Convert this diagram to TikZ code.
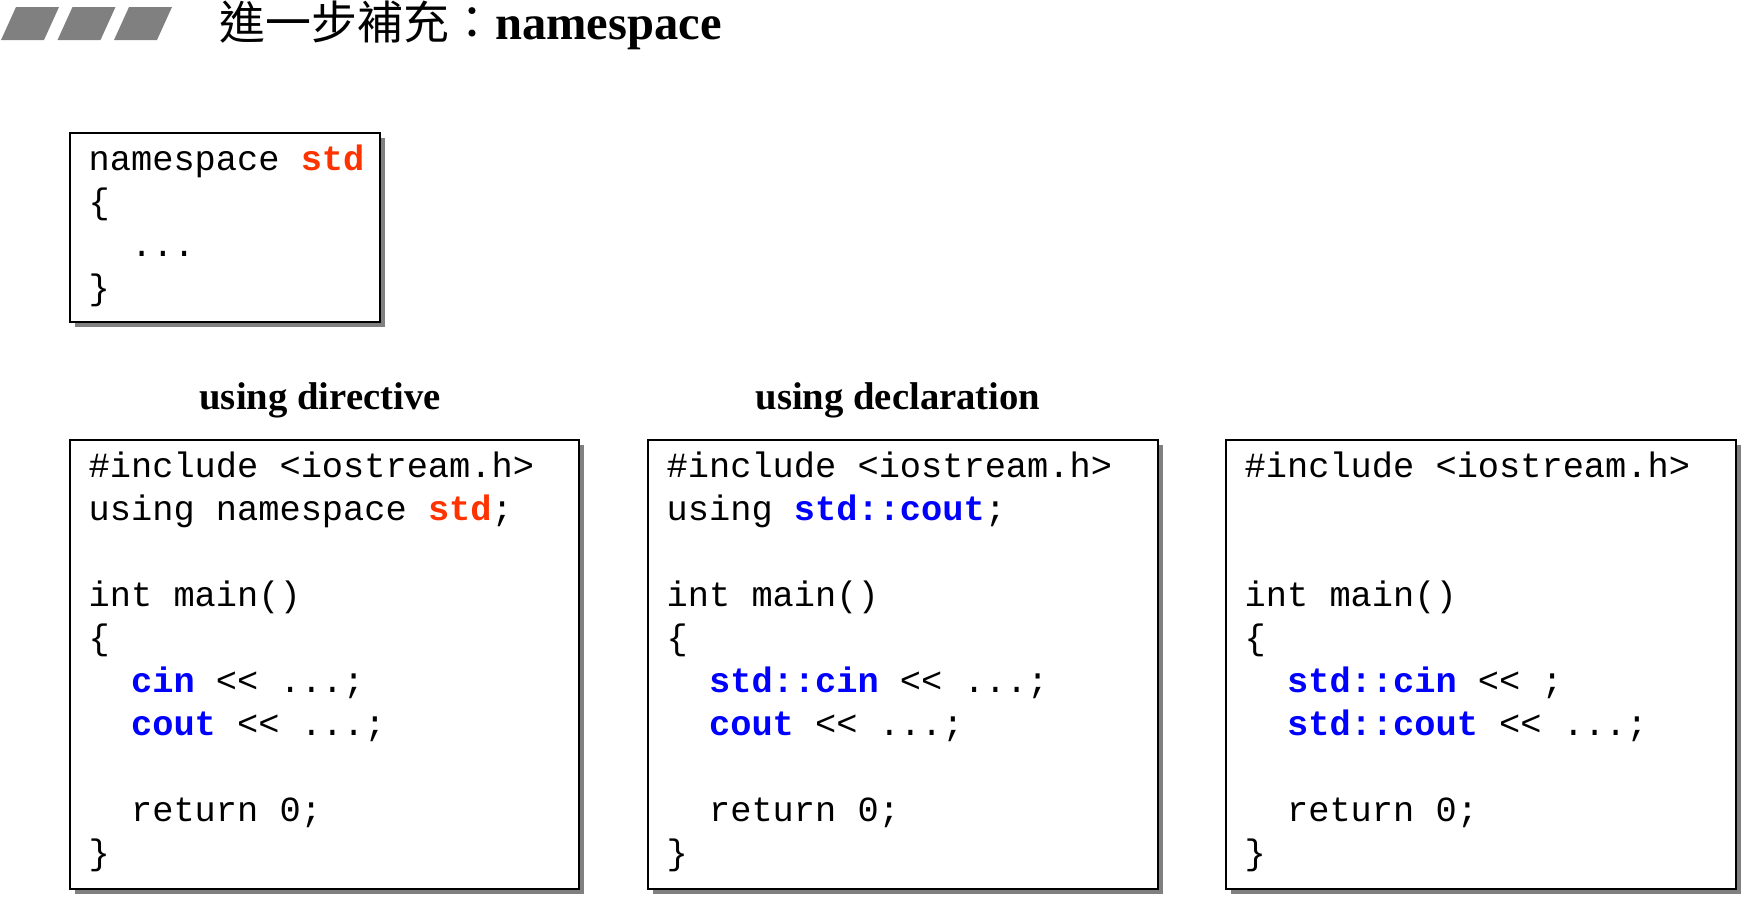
\documentclass[tikz,border=0pt]{standalone}
\usepackage{fontspec}
\setmainfont{Liberation Serif}
\setmonofont{Liberation Mono}
\newfontfamily\cjkfont[Scale=0.946]{Noto Sans CJK TC}
\usetikzlibrary{shadows}

\definecolor{stdred}{RGB}{255,51,0}
\definecolor{kwblue}{RGB}{0,0,255}
\definecolor{stripegray}{RGB}{128,128,128}
\newcommand{\redkw}[1]{\textcolor{stdred}{\textbf{#1}}}
\newcommand{\bluekw}[1]{\textcolor{kwblue}{\textbf{#1}}}
\newcommand{\codedots}{.{}.{}.}
\newcommand{\shl}{<{}<}

\tikzset{
  codebox/.style={draw, line width=0.6pt, fill=white, anchor=north west, inner sep=0pt, outer sep=0pt,
    drop shadow={shadow xshift=0.05cm, shadow yshift=-0.05cm, fill=stripegray, opacity=1}},
  codeline/.style={anchor=base west, inner sep=0pt, font=\ttfamily\fontsize{10.05pt}{12pt}\selectfont},
  subtitle/.style={anchor=base, inner sep=0pt, font=\bfseries\fontsize{11pt}{13pt}\selectfont}
}

\begin{document}
\begin{tikzpicture}[x=0.01cm, y=-0.01cm]
    \useasboundingbox (0,0) rectangle (1747,902);

    % Header stripes and title
    \foreach \i in {0,1,2} {
      \fill[stripegray] (1+\i*56.5,40) -- ++(43,0) -- ++(15,-33) -- ++(-43,0) -- cycle;
    }
    \node[anchor=base west, inner sep=0pt, font=\fontsize{13.8pt}{16pt}\selectfont] (title) at (219,39) {{\cjkfont 進一步補充：}\textbf{namespace}};

    % namespace box
    \node[codebox, minimum width=3.1cm, minimum height=1.89cm] (nsbox) at (70,133) {};
    \foreach \k/\ind/\txt in {0/0/namespace \redkw{std}, 1/0/\{, 2/2/\codedots, 3/0/\}} {
      \node[codeline] (ns-\k) at ([shift={(18+\ind*21.2,37+\k*43.1)}]nsbox.north west) {\txt};
    }

    % Headings
    \node[subtitle] (dirtitle) at (320,409) {using directive};
    \node[subtitle] (decltitle) at (898,409) {using declaration};

    % using directive
    \node[codebox, minimum width=5.09cm, minimum height=4.49cm] (dirbox) at (70,440) {};
    \foreach \k/\ind/\txt in {0/0/\#include <iostream.h>, 1/0/using namespace \redkw{std};, 3/0/int main(), 4/0/\{,
        5/2/\bluekw{cin} \shl{} \codedots;, 6/2/\bluekw{cout} \shl{} \codedots;, 8/2/return 0;, 9/0/\}} {
      \node[codeline] (dir-\k) at ([shift={(18+\ind*21.2,37+\k*43.1)}]dirbox.north west) {\txt};
    }

    % using declaration
    \node[codebox, minimum width=5.1cm, minimum height=4.49cm] (declbox) at (648,440) {};
    \foreach \k/\ind/\txt in {0/0/\#include <iostream.h>, 1/0/using \bluekw{std::cout};, 3/0/int main(), 4/0/\{,
        5/2/\bluekw{std::cin} \shl{} \codedots;, 6/2/\bluekw{cout} \shl{} \codedots;, 8/2/return 0;, 9/0/\}} {
      \node[codeline] (decl-\k) at ([shift={(18+\ind*21.2,37+\k*43.1)}]declbox.north west) {\txt};
    }

    % fully qualified names
    \node[codebox, minimum width=5.1cm, minimum height=4.49cm] (qualbox) at (1226,440) {};
    \foreach \k/\ind/\txt in {0/0/\#include <iostream.h>, 3/0/int main(), 4/0/\{,
        5/2/\bluekw{std::cin} \shl{} ;, 6/2/\bluekw{std::cout} \shl{} \codedots;, 8/2/return 0;, 9/0/\}} {
      \node[codeline] (qual-\k) at ([shift={(18+\ind*21.2,37+\k*43.1)}]qualbox.north west) {\txt};
    }
\end{tikzpicture}
\end{document}
